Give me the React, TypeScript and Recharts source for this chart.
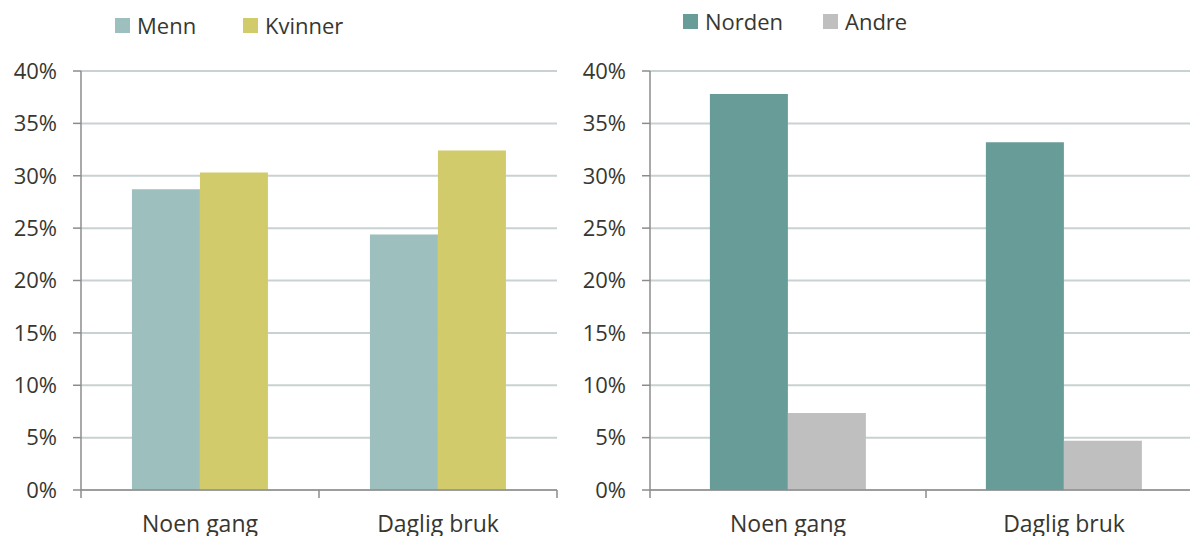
import React from "react";
import { BarChart, Bar, XAxis, YAxis, CartesianGrid } from "recharts";

const categories = ["Noen gang", "Daglig bruk"];
const menn = [28.7, 24.4];
const kvinner = [30.3, 32.4];
const norden = [37.8, 33.2];
const andre = [7.35, 4.7];
const yTicks = [0, 5, 10, 15, 20, 25, 30, 35, 40];

const FONT = "'Open Sans', sans-serif";
const TEXT = "#38372f";
const AXIS = "#8c8c8c";
const GRID = "#c9d2d2";

const genderData = categories.map((c, i) => ({ name: c, Menn: menn[i], Kvinner: kvinner[i] }));
const originData = categories.map((c, i) => ({ name: c, Norden: norden[i], Andre: andre[i] }));

// category label in the middle, tick marks on the band edges
const EdgeTick = (props: any) => {
  const { x, y, payload, index, visibleTicksCount } = props;
  const off = payload.offset ?? 0;
  const top = y - 26;
  return (
    <g>
      <line x1={x - off} x2={x - off} y1={top} y2={top + 8} stroke={AXIS} strokeWidth={1.5} />
      {index === visibleTicksCount - 1 && (
        <line x1={x + off} x2={x + off} y1={top} y2={top + 8} stroke={AXIS} strokeWidth={1.5} />
      )}
      <text x={x} y={y} dy="0.71em" textAnchor="middle" fill={TEXT} fontSize={23} fontFamily={FONT}>
        {payload.value}
      </text>
    </g>
  );
};

const LegendItem = ({ left, top, color, label }: { left: number; top: number; color: string; label: string }) => (
  <div style={{ position: "absolute", left, top, display: "flex", alignItems: "center", fontFamily: FONT, fontSize: 22, color: TEXT, lineHeight: "24px" }}>
    <span style={{ width: 15, height: 15, background: color, marginRight: 7, display: "inline-block" }} />
    <span>{label}</span>
  </div>
);

const Panel = ({ data, keys, colors, width, yWidth, right, gap }: any) => (
  <BarChart
    width={width}
    height={536}
    data={data}
    margin={{ top: 71, right, bottom: 0, left: 0 }}
    barGap={0}
    barCategoryGap={gap}
  >
    <CartesianGrid vertical={false} stroke={GRID} strokeWidth={2} />
    <XAxis
      dataKey="name"
      height={46}
      axisLine={{ stroke: AXIS, strokeWidth: 1.5 }}
      tickLine={false}
      tickSize={8}
      tickMargin={18}
      tick={<EdgeTick />}
      interval={0}
    />
    <YAxis
      width={yWidth}
      domain={[0, 40]}
      ticks={yTicks}
      tickFormatter={(v: number) => `${v}%`}
      axisLine={{ stroke: AXIS, strokeWidth: 1.5 }}
      tickLine={{ stroke: AXIS, strokeWidth: 1.5 }}
      tickSize={8}
      tickMargin={16}
      tick={{ fill: TEXT, fontSize: 22, fontFamily: FONT }}
    />
    {keys.map((k: string, i: number) => (
      <Bar key={k} dataKey={k} fill={colors[i]} isAnimationActive={false} />
    ))}
  </BarChart>
);

export default function App() {
  return (
    <div style={{ position: "fixed", left: 0, top: 0, width: 1190, height: 536, overflow: "hidden", background: "#fff" }}>
      <div style={{ position: "absolute", left: 0, top: 0 }}>
        <Panel data={genderData} keys={["Menn", "Kvinner"]} colors={["#9dbfbe", "#d2cb6c"]} width={600} yWidth={81} right={43} gap="21.4%" />
      </div>
      <div style={{ position: "absolute", left: 560, top: 0 }}>
        <Panel data={originData} keys={["Norden", "Andre"]} colors={["#689c99", "#bfbfbf"]} width={660} yWidth={90} right={18} gap="21.7%" />
      </div>
      <LegendItem left={115} top={13} color="#9dbfbe" label="Menn" />
      <LegendItem left={243} top={13} color="#d2cb6c" label="Kvinner" />
      <LegendItem left={683} top={9} color="#689c99" label="Norden" />
      <LegendItem left={823} top={9} color="#bfbfbf" label="Andre" />
    </div>
  );
}
